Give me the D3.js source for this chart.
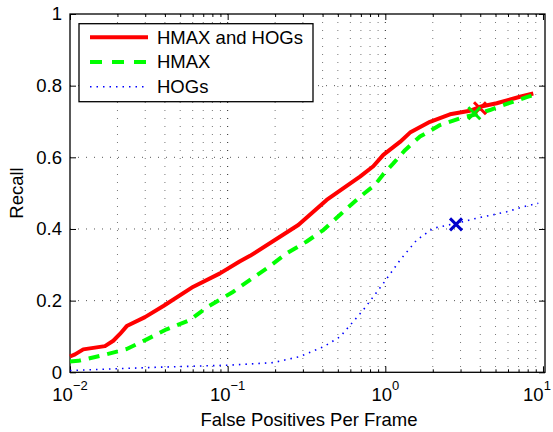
<!DOCTYPE html>
<html>
<head>
<meta charset="utf-8">
<script src="https://cdn.jsdelivr.net/npm/d3@7"></script>
<style>
  body { margin: 0; background: #fff; }
  text { font-family: "Liberation Sans", Arial, Helvetica, sans-serif; }
</style>
</head>
<body>
<div id="chart"></div>
<script>
// series names (legend order)
const seriesNames = ['HMAX and HOGs', 'HMAX', 'HOGs'];

// HMAX and HOGs
const bothFppf = [0.01, 0.01076, 0.01214, 0.01667, 0.01882, 0.02075, 0.0229, 0.0299, 0.0391, 0.0606, 0.0894, 0.119, 0.1386, 0.2805, 0.4246, 0.691, 0.839, 0.971, 1.239, 1.434, 1.92, 2.572, 3.444, 3.986, 5.087, 7.145, 8.68];
const bothRecall = [0.044, 0.050, 0.064, 0.073, 0.088, 0.107, 0.129, 0.154, 0.185, 0.239, 0.276, 0.309, 0.325, 0.411, 0.481, 0.546, 0.575, 0.607, 0.643, 0.669, 0.699, 0.720, 0.730, 0.741, 0.751, 0.769, 0.778];

// HMAX
const hmaxFppf = [0.01, 0.01129, 0.01626, 0.0229, 0.0307, 0.041, 0.0577, 0.0736, 0.1086, 0.1386, 0.1768, 0.2368, 0.3171, 0.4043, 0.5289, 0.691, 0.86, 0.971, 1.124, 1.333, 1.659, 2.223, 3.123, 3.614, 4.613, 5.888, 7.885, 8.68];
const hmaxRecall = [0.030, 0.032, 0.048, 0.065, 0.092, 0.120, 0.146, 0.181, 0.225, 0.258, 0.290, 0.332, 0.365, 0.397, 0.444, 0.490, 0.523, 0.553, 0.583, 0.620, 0.658, 0.690, 0.712, 0.718, 0.732, 0.749, 0.768, 0.774];

// HOGs
const hogFppf = [0.01, 0.02, 0.0355, 0.05, 0.1035, 0.1948, 0.2876, 0.4043, 0.516, 0.725, 0.971, 1.239, 1.581, 2.015, 2.836, 3.798, 5.888, 7.504, 9.34];
const hogRecall = [0.005, 0.010, 0.014, 0.016, 0.020, 0.027, 0.044, 0.071, 0.099, 0.174, 0.248, 0.313, 0.369, 0.402, 0.416, 0.430, 0.448, 0.462, 0.472];

// operating points (x markers)
const markFppf = [3.986, 3.667, 2.808];
const markRecall = [0.737, 0.723, 0.413];

const colors = ['#ff0000', '#00ff00', '#0000ff'];

// ticks
const xMajor = [0.01, 0.1, 1, 10];
const xExp = [-2, -1, 0, 1];
const yTicks = [0, 0.2, 0.4, 0.6, 0.8, 1];
const yLabels = ['0', '0.2', '0.4', '0.6', '0.8', '1'];

const W = 553, H = 432;
const margin = { top: 14, right: 8, bottom: 60, left: 70 };
const width = W - margin.left - margin.right;
const height = 372.3 - margin.top;
const fs = 18.5;

const xMinor = [];
[0.01, 0.1, 1].forEach(d => { for (let k = 2; k <= 9; k++) xMinor.push(d * k); });

const svg = d3.select('#chart').append('svg')
    .attr('width', W)
    .attr('height', H);

const g = svg.append('g')
    .attr('transform', `translate(${margin.left},${margin.top})`);

const x = d3.scaleLog().domain([0.01, 10.3]).range([0, width]);
const y = d3.scaleLinear().domain([0, 1]).range([height, 0]);

// grid
const grid = g.append('g').attr('stroke', '#555').attr('stroke-width', 1)
    .attr('stroke-dasharray', '1,7').attr('fill', 'none');
xMajor.concat(xMinor).filter(d => d > 0.01 && d < 10).forEach(d => {
    grid.append('line')
        .attr('x1', x(d)).attr('x2', x(d))
        .attr('y1', 0).attr('y2', height)
        .attr('stroke', xMajor.includes(d) ? '#222' : '#777');
});
yTicks.filter(d => d > 0 && d < 1).forEach(d => {
    grid.append('line')
        .attr('x1', 0).attr('x2', width)
        .attr('y1', y(d)).attr('y2', y(d));
});

// axes (ticks inward, labels drawn separately)
const tickAxis = (axis, tr) => {
    const a = g.append('g').attr('transform', tr).call(axis);
    a.select('.domain').remove();
    a.selectAll('text').remove();
    a.selectAll('line').attr('stroke', '#000');
    return a;
};
tickAxis(d3.axisBottom(x).tickValues(xMajor).tickSize(-6), `translate(0,${height})`);
tickAxis(d3.axisBottom(x).tickValues(xMinor).tickSize(-3), `translate(0,${height})`);
tickAxis(d3.axisTop(x).tickValues(xMajor).tickSize(-6), 'translate(0,0)');
tickAxis(d3.axisTop(x).tickValues(xMinor).tickSize(-3), 'translate(0,0)');
tickAxis(d3.axisLeft(y).tickValues(yTicks).tickSize(-6), 'translate(0,0)');
tickAxis(d3.axisRight(y).tickValues(yTicks).tickSize(-6), `translate(${width},0)`);

// frame
g.append('rect')
    .attr('width', width).attr('height', height)
    .attr('fill', 'none').attr('stroke', '#000').attr('stroke-width', 1.3);

// tick labels
g.selectAll('.ylab').data(yTicks).enter().append('text')
    .attr('class', 'ylab')
    .attr('x', -8)
    .attr('y', d => y(d))
    .attr('dy', '0.35em')
    .attr('text-anchor', 'end')
    .attr('font-size', fs)
    .text((d, i) => yLabels[i]);

const xl = g.selectAll('.xlab').data(xMajor).enter().append('text')
    .attr('class', 'xlab')
    .attr('x', (d, i) => x(d) - (i === xMajor.length - 1 ? 6 : 0))
    .attr('y', height + 29)
    .attr('text-anchor', 'middle')
    .attr('font-size', fs);
xl.append('tspan').text('10');
xl.append('tspan').attr('dy', -11).attr('font-size', 13)
    .text((d, i) => String(xExp[i]).replace('-', '\u2212'));

// axis titles
svg.append('text')
    .attr('x', 309).attr('y', 426)
    .attr('text-anchor', 'middle')
    .attr('font-size', fs)
    .text('False Positives Per Frame');

svg.append('text')
    .attr('transform', 'translate(23,193) rotate(-90)')
    .attr('text-anchor', 'middle')
    .attr('font-size', fs)
    .text('Recall');

// curves
const plot = g.append('g');
const line = d3.line().x(d => x(d[0])).y(d => y(d[1]));
const series = [
    { xs: bothFppf, ys: bothRecall, width: 4, dash: null },
    { xs: hmaxFppf, ys: hmaxRecall, width: 4, dash: '11,8' },
    { xs: hogFppf, ys: hogRecall, width: 1.6, dash: '1.5,5' }
];
series.forEach((s, i) => {
    plot.append('path')
        .datum(s.xs.map((v, j) => [v, s.ys[j]]))
        .attr('d', line)
        .attr('fill', 'none')
        .attr('stroke', colors[i])
        .attr('stroke-width', s.width)
        .attr('stroke-dasharray', s.dash)
        .attr('stroke-linejoin', 'round');
});

// markers
const markColors = ['#ff0000', '#00ee00', '#0000cc'];
markFppf.forEach((v, i) => {
    plot.append('path')
        .attr('transform', `translate(${x(v)},${y(markRecall[i])})`)
        .attr('d', 'M-6,-6L6,6M-6,6L6,-6')
        .attr('fill', 'none')
        .attr('stroke', markColors[i])
        .attr('stroke-width', 3);
});

// legend
const leg = svg.append('g').attr('transform', 'translate(79,23.7)');
leg.append('rect')
    .attr('width', 234).attr('height', 78)
    .attr('fill', '#fff').attr('stroke', '#000').attr('stroke-width', 1.3);
seriesNames.forEach((name, i) => {
    const yy = 13.6 + i * 24.7;
    leg.append('line')
        .attr('x1', 11).attr('x2', 69)
        .attr('y1', yy).attr('y2', yy)
        .attr('stroke', colors[i])
        .attr('stroke-width', series[i].width)
        .attr('stroke-dasharray', i === 1 ? '12,10' : series[i].dash);
    leg.append('text')
        .attr('x', 78).attr('y', yy)
        .attr('dy', '0.35em')
        .attr('font-size', fs)
        .text(name);
});
</script>
</body>
</html>
